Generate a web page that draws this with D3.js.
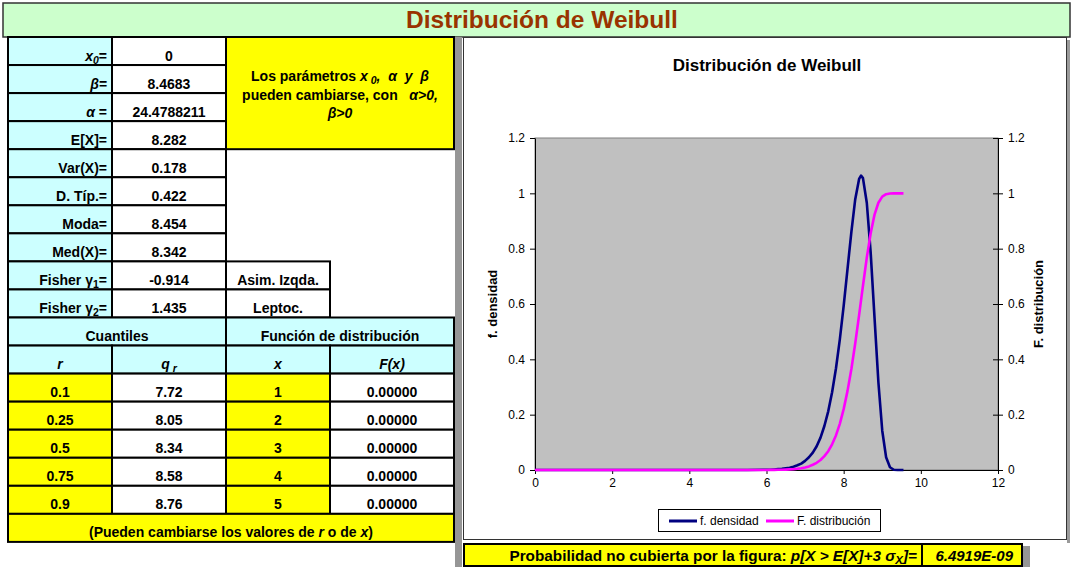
<!DOCTYPE html>
<html>
<head>
<meta charset="utf-8">
<script src="https://cdn.jsdelivr.net/npm/d3@7"></script>
<style>
body { margin: 0; background: #fff; }
text { font-family: Arial, "Liberation Sans", sans-serif; white-space: pre; }
</style>
</head>
<body>
<div id="sheet"></div>
<script>
// --- table content (text segments: [text, flags]; i = italic, s = subscript)
var statLabels = [
    [["x", "i"], ["0", "is"], ["=", ""]],
    [["β=", "i"]],
    [["α", "i"], [" =", ""]],
    [["E[X]=", ""]],
    [["Var(X)=", ""]],
    [["D. Típ.=", ""]],
    [["Moda=", ""]],
    [["Med(X)=", ""]],
    [["Fisher γ", ""], ["1", "s"], ["=", ""]],
    [["Fisher γ", ""], ["2", "s"], ["=", ""]]
]
var statValues = ["0", "8.4683", "24.4788211", "8.282", "0.178", "0.422", "8.454", "8.342", "-0.914", "1.435"]
var shapeNotes = ["Asim. Izqda.", "Leptoc."]
var noteLines = [
    [["Los parámetros ", ""], ["x", "i"], [" 0", "is"], [",  ", "i"], ["α", "i"], ["  y  ", "i"], ["β", "i"]],
    [["pueden cambiarse, con   ", ""], ["α", "i"], [">0,", "i"]],
    [["β", "i"], [">0", "i"]]
]
var quantHeaders = [[["r", "i"]], [["q", "i"], [" r", "is"]], [["x", "i"]], [["F(x)", "i"]]]
var quantR = ["0.1", "0.25", "0.5", "0.75", "0.9"]
var quantQ = ["7.72", "8.05", "8.34", "8.58", "8.76"]
var distX = ["1", "2", "3", "4", "5"]
var distF = ["0.00000", "0.00000", "0.00000", "0.00000", "0.00000"]
var footNote = [["(Pueden cambiarse los valores de ", ""], ["r", "i"], [" o de ", ""], ["x", "i"], [")", ""]]
var tailLabel = [["Probabilidad no cubierta por la figura: ", ""], ["p[X > E[X]+3 σ", "i"], ["X", "is"], ["]=", "i"]]
var tailValue = "6.4919E-09"

// --- chart values
var xs = [0, 1, 2, 3, 4, 5, 5.5,
    6, 6.1, 6.2, 6.3, 6.4, 6.5, 6.6, 6.7, 6.8, 6.9,
    7, 7.1, 7.2, 7.3, 7.4, 7.5, 7.6, 7.7, 7.8, 7.9,
    8, 8.1, 8.2, 8.3, 8.4, 8.45, 8.5, 8.6, 8.7, 8.8, 8.9,
    9, 9.1, 9.2, 9.3, 9.4, 9.55]
var density = [0, 0, 0, 0, 0, 0, 0.0001,
    0.001, 0.001, 0.002, 0.003, 0.004, 0.006, 0.008, 0.012, 0.017, 0.023,
    0.033, 0.046, 0.063, 0.086, 0.117, 0.159, 0.212, 0.281, 0.367, 0.471,
    0.593, 0.727, 0.861, 0.979, 1.052, 1.064, 1.055, 0.965, 0.786, 0.550, 0.317,
    0.142, 0.046, 0.010, 0.001, 0, 0]
var cdf = [0, 0, 0, 0, 0, 0, 0,
    0.0002, 0.0003, 0.0005, 0.0007, 0.0011, 0.0015, 0.0022, 0.0032, 0.0046, 0.0066,
    0.009, 0.013, 0.019, 0.026, 0.036, 0.050, 0.068, 0.093, 0.125, 0.167,
    0.220, 0.286, 0.365, 0.458, 0.560, 0.613, 0.666, 0.768, 0.856, 0.923, 0.966,
    0.988, 0.997, 0.9995, 1, 1, 1]
var xTicks = [0, 2, 4, 6, 8, 10, 12]
var yTicks = [0, 0.2, 0.4, 0.6, 0.8, 1, 1.2]
var seriesNames = ["f. densidad", "F. distribución"]
var seriesColors = ["#000080", "#ff00ff"]

var W = 1073, H = 567
var CYAN = "#ccffff", YELLOW = "#ffff00", GREEN = "#ccffcc"

var svg = d3.select("#sheet").append("svg")
    .attr("width", W)
    .attr("height", H)
    .style("display", "block")

svg.append("rect").attr("width", W).attr("height", H).attr("fill", "#fff")

// writes segments into a text element
function rich(textSel, segs) {
    var shifted = false
    segs.forEach(function(s) {
        var t = textSel.append("tspan").text(s[0])
        if (s[1].indexOf("i") >= 0) t.style("font-style", "italic")
        if (s[1].indexOf("s") >= 0) {
            t.style("font-size", "75%")
            if (!shifted) { t.attr("dy", 3); shifted = true }
        } else if (shifted) {
            t.attr("dy", -3); shifted = false
        }
    })
    return textSel
}

// --- title bar
svg.append("rect")
    .attr("x", 3).attr("y", 3).attr("width", 1067).attr("height", 34)
    .attr("fill", GREEN).attr("stroke", "#333").attr("stroke-width", 1.5)
svg.append("text")
    .attr("x", 542).attr("y", 28)
    .attr("text-anchor", "middle")
    .style("font-size", "24.5px").style("font-weight", "bold")
    .attr("fill", "#993300")
    .text("Distribución de Weibull")

// --- left table
var cols = [8, 112, 226, 330, 454]
function rowTop(i) { return 37 + i * 28.05 }
var table = svg.append("g").attr("class", "table")

function cell(c0, c1, r0, r1, fill, stroke) {
    table.append("rect")
        .attr("x", cols[c0]).attr("y", rowTop(r0))
        .attr("width", cols[c1] - cols[c0]).attr("height", rowTop(r1) - rowTop(r0))
        .attr("fill", fill)
        .attr("stroke", stroke ? "#000" : "none")
        .attr("stroke-width", 2)
}
function label(x, r, anchor, segs) {
    var t = table.append("text")
        .attr("x", x).attr("y", rowTop(r + 1) - 4.5)
        .attr("text-anchor", anchor)
        .style("font-size", "14px").style("font-weight", "bold")
    return rich(t, segs)
}
function mid(c0, c1) { return (cols[c0] + cols[c1]) / 2 }

// stats block
statLabels.forEach(function(segs, i) {
    cell(0, 1, i, i + 1, CYAN, true)
    cell(1, 2, i, i + 1, "#fff", true)
    label(cols[1] - 5, i, "end", segs)
    label(mid(1, 2), i, "middle", [[statValues[i], ""]])
})

// note box
cell(2, 4, 0, 4, YELLOW, true)
noteLines.forEach(function(segs, i) {
    var t = table.append("text")
        .attr("x", mid(2, 4)).attr("y", 81 + i * 18.6)
        .attr("text-anchor", "middle")
        .style("font-size", "14px").style("font-weight", "bold")
    rich(t, segs)
})

// skewness / kurtosis notes
shapeNotes.forEach(function(n, i) {
    cell(2, 3, 8 + i, 9 + i, "#fff", true)
    label(mid(2, 3), 8 + i, "middle", [[n, ""]])
})

// quantile headers
cell(0, 2, 10, 11, CYAN, true)
cell(2, 4, 10, 11, CYAN, true)
label(mid(0, 2), 10, "middle", [["Cuantiles", ""]])
label(mid(2, 4), 10, "middle", [["Función de distribución", ""]])
quantHeaders.forEach(function(segs, c) {
    cell(c, c + 1, 11, 12, CYAN, true)
    label(mid(c, c + 1), 11, "middle", segs)
})

// quantile rows
quantR.forEach(function(r, i) {
    var row = 12 + i
    cell(0, 1, row, row + 1, YELLOW, true)
    cell(1, 2, row, row + 1, "#fff", true)
    cell(2, 3, row, row + 1, YELLOW, true)
    cell(3, 4, row, row + 1, "#fff", true)
    label(mid(0, 1), row, "middle", [[r, ""]])
    label(mid(1, 2), row, "middle", [[quantQ[i], ""]])
    label(mid(2, 3), row, "middle", [[distX[i], ""]])
    label(mid(3, 4), row, "middle", [[distF[i], ""]])
})

cell(0, 4, 17, 18, YELLOW, true)
label(mid(0, 4), 17, "middle", footNote)

// grey gap column
svg.append("rect")
    .attr("x", 455).attr("y", 37).attr("width", 7).attr("height", H - 37)
    .attr("fill", "#969696")

// --- chart box
svg.append("rect")
    .attr("x", 1067).attr("y", 40).attr("width", 3).attr("height", 503)
    .attr("fill", "#9a9a9a")
svg.append("rect")
    .attr("x", 463.5).attr("y", 37.5).attr("width", 603).attr("height", 502)
    .attr("fill", "#fff").attr("stroke", "#333").attr("stroke-width", 1)

svg.append("text")
    .attr("x", 767).attr("y", 71)
    .attr("text-anchor", "middle")
    .style("font-size", "17px").style("font-weight", "bold")
    .text("Distribución de Weibull")

var x = d3.scaleLinear().domain([0, 12]).range([535, 998])
var y = d3.scaleLinear().domain([0, 1.2]).range([470, 138])

svg.append("rect")
    .attr("x", x(0)).attr("y", y(1.2))
    .attr("width", x(12) - x(0)).attr("height", y(0) - y(1.2))
    .attr("fill", "#c0c0c0").attr("stroke", "#808080").attr("stroke-width", 1)

var fmt = d3.format("~g")

var xAxis = svg.append("g")
    .attr("transform", "translate(0," + y(0) + ")")
    .call(d3.axisBottom(x).tickValues(xTicks).tickFormat(fmt).tickSizeInner(4).tickSizeOuter(0).tickPadding(4))
var yAxisL = svg.append("g")
    .attr("transform", "translate(" + x(0) + ",0)")
    .call(d3.axisLeft(y).tickValues(yTicks).tickFormat(fmt).tickSizeInner(5).tickSizeOuter(0).tickPadding(5))
var yAxisR = svg.append("g")
    .attr("transform", "translate(" + x(12) + ",0)")
    .call(d3.axisRight(y).tickValues(yTicks).tickFormat(fmt).tickSizeInner(5).tickSizeOuter(0).tickPadding(5))
yAxisR.selectAll(".tick line").attr("x1", -5)

;[xAxis, yAxisL, yAxisR].forEach(function(a) {
    a.selectAll("text").style("font-size", "12px").style("font-family", "Arial, 'Liberation Sans', sans-serif").attr("fill", "#000")
    a.selectAll("line, path").attr("stroke", "#000")
})

svg.append("text")
    .attr("transform", "translate(497,304) rotate(-90)")
    .attr("text-anchor", "middle")
    .style("font-size", "13px").style("font-weight", "bold")
    .text("f. densidad")
svg.append("text")
    .attr("transform", "translate(1043,304) rotate(-90)")
    .attr("text-anchor", "middle")
    .style("font-size", "13px").style("font-weight", "bold")
    .text("F. distribución")

// curves
var line = d3.line()
    .x(function(d) { return x(d[0]) })
    .y(function(d) { return y(d[1]) })

var series = [d3.zip(xs, density), d3.zip(xs, cdf)]
svg.append("g").selectAll("path")
    .data(series)
    .enter().append("path")
    .attr("d", line)
    .attr("fill", "none")
    .attr("stroke", function(d, i) { return seriesColors[i] })
    .attr("stroke-width", 2.6)
    .attr("stroke-linejoin", "round")

// legend
var legend = svg.append("g").attr("transform", "translate(658,509)")
legend.append("rect")
    .attr("x", 0.5).attr("y", 0.5).attr("width", 222).attr("height", 22)
    .attr("fill", "#fff").attr("stroke", "#000")
var legendX = [11, 108]
seriesNames.forEach(function(n, i) {
    legend.append("line")
        .attr("x1", legendX[i]).attr("x2", legendX[i] + 28)
        .attr("y1", 12).attr("y2", 12)
        .attr("stroke", seriesColors[i]).attr("stroke-width", 3)
    legend.append("text")
        .attr("x", legendX[i] + 31).attr("y", 16)
        .style("font-size", "12px")
        .text(n)
})

// --- tail probability line
svg.append("rect")
    .attr("x", 1022).attr("y", 546).attr("width", 8).attr("height", 21)
    .attr("fill", "#969696")
svg.append("rect")
    .attr("x", 464).attr("y", 544).attr("width", 458).attr("height", 22)
    .attr("fill", YELLOW).attr("stroke", "#000").attr("stroke-width", 2)
svg.append("rect")
    .attr("x", 922).attr("y", 544).attr("width", 100).attr("height", 22)
    .attr("fill", YELLOW).attr("stroke", "#000").attr("stroke-width", 2)
rich(svg.append("text")
    .attr("x", 917).attr("y", 560.5)
    .attr("text-anchor", "end")
    .style("font-size", "15.3px").style("font-weight", "bold"), tailLabel)
svg.append("text")
    .attr("x", 1013).attr("y", 560.5)
    .attr("text-anchor", "end")
    .style("font-size", "15px").style("font-weight", "bold").style("font-style", "italic")
    .text(tailValue)
</script>
</body>
</html>
